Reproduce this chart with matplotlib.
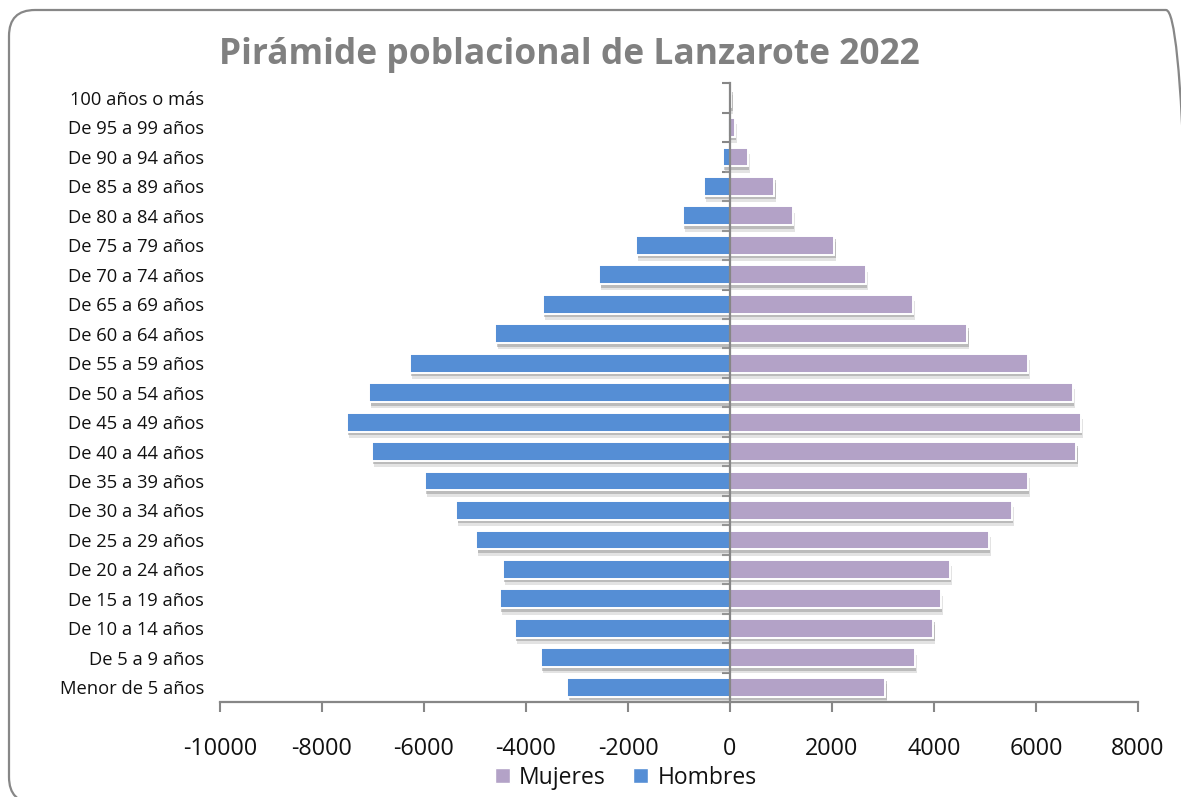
"""Population pyramid of Lanzarote 2022 (Excel-style recreation)."""

import matplotlib.pyplot as plt
import matplotlib.patheffects as pe
import numpy as np
from matplotlib.patches import FancyBboxPatch, Patch


# bottom -> top
GRUPOS = [
    "Menor de 5 años", "De 5 a 9 años", "De 10 a 14 años", "De 15 a 19 años",
    "De 20 a 24 años", "De 25 a 29 años", "De 30 a 34 años", "De 35 a 39 años",
    "De 40 a 44 años", "De 45 a 49 años", "De 50 a 54 años", "De 55 a 59 años",
    "De 60 a 64 años", "De 65 a 69 años", "De 70 a 74 años", "De 75 a 79 años",
    "De 80 a 84 años", "De 85 a 89 años", "De 90 a 94 años", "De 95 a 99 años",
    "100 años o más",
]
HOMBRES = [-3187, -3716, -4220, -4508, -4456, -4973, -5366, -5981, -7021, -7512,
           -7073, -6275, -4600, -3671, -2565, -1839, -929, -516, -140, -40, -12]
MUJERES = [3043, 3618, 3985, 4135, 4305, 5071, 5528, 5843, 6792, 6883,
           6720, 5843, 4652, 3585, 2662, 2042, 1237, 870, 353, 90, 25]
X_TICKS = np.arange(-10000, 8001, 2000)

COLOR_H = "#558ed5"
COLOR_M = "#b3a2c7"
GRIS = "#878787"

plt.rcParams["font.family"] = ["Open Sans", "DejaVu Sans"]

fig = plt.figure(figsize=(11.81, 7.97), dpi=100)
ax = fig.add_axes([0.1863, 0.1192, 0.7773, 0.7763])

y = np.arange(len(GRUPOS))
# soft drop shadow, roughly like the Excel bar effect
sombra = [
    pe.SimplePatchShadow(offset=(1.5, -4.5), shadow_rgbFace="#b0b0b0", alpha=0.35),
    pe.SimplePatchShadow(offset=(1.0, -2.5), shadow_rgbFace="#8c8c8c", alpha=0.45),
    pe.Normal(),
]
ax.barh(y, HOMBRES, height=0.64, color=COLOR_H, edgecolor="white",
        linewidth=1.4, path_effects=sombra, zorder=2)
ax.barh(y, MUJERES, height=0.64, color=COLOR_M, edgecolor="white",
        linewidth=1.4, path_effects=sombra, zorder=2)

ax.set_xlim(-10000, 8000)
ax.set_ylim(-0.5, len(GRUPOS) - 0.5)

# category axis crossing at zero
ax.spines["top"].set_visible(False)
ax.spines["left"].set_visible(False)
ax.spines["right"].set_position(("data", 0))
ax.spines["right"].set_color(GRIS)
ax.spines["right"].set_linewidth(1.6)
ax.spines["right"].set_zorder(3)
ax.spines["bottom"].set_color(GRIS)
ax.spines["bottom"].set_linewidth(1.6)

ax.set_yticks(y)
ax.set_yticklabels(GRUPOS)
ax.set_yticks(np.arange(-0.5, len(GRUPOS), 1.0), minor=True)
ax.tick_params(axis="y", which="major", left=False, right=False,
               labelleft=True, labelright=False, labelsize=13.2, pad=8,
               labelcolor="#111111")
ax.tick_params(axis="y", which="minor", left=False, right=True,
               direction="in", length=6, width=1.5, color=GRIS)

ax.set_xticks(X_TICKS)
ax.set_xticklabels([str(v) for v in X_TICKS])
ax.tick_params(axis="x", direction="out", length=7, width=1.5, color=GRIS,
               labelsize=16.8, pad=18, labelcolor="#111111")

fig.text(0.4825, 0.931, "Pirámide poblacional de Lanzarote 2022",
         ha="center", va="center", fontsize=25.5, fontweight="bold",
         color="#808080")

handles = [Patch(facecolor=COLOR_M, edgecolor="white", label="Mujeres"),
           Patch(facecolor=COLOR_H, edgecolor="white", label="Hombres")]
fig.legend(handles=handles, loc="center", bbox_to_anchor=(0.530, 0.024),
           ncol=2, frameon=False, fontsize=16.5, handlelength=0.65,
           handleheight=0.65, handletextpad=0.4, columnspacing=1.2,
           labelcolor="#111111")

marco = FancyBboxPatch((0.09, -0.06), 11.83, 7.93,
                       boxstyle="round,pad=0,rounding_size=0.26",
                       transform=fig.dpi_scale_trans, facecolor="none",
                       edgecolor=GRIS, linewidth=1.6, clip_on=False)
fig.patches.append(marco)

fig.savefig("out.png", dpi=100, facecolor="white")
